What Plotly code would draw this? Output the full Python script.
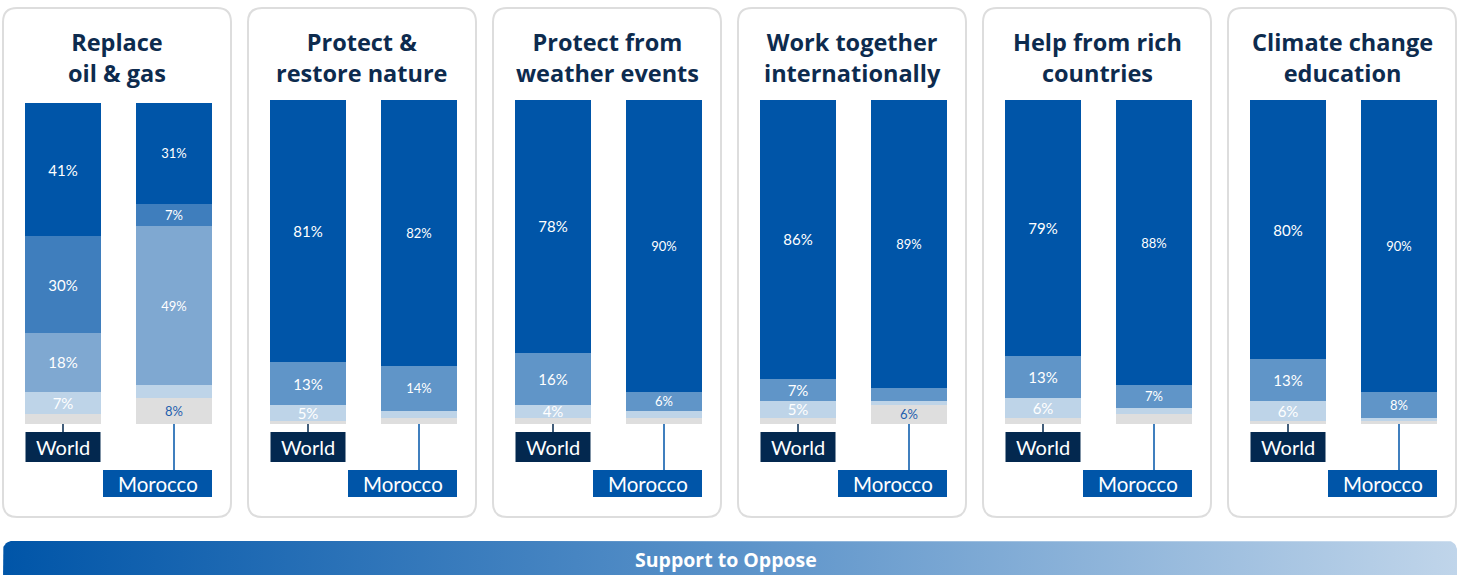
import numpy as np
import plotly.graph_objects as go

# ---------------- data ----------------
titles = ["Replace<br>oil & gas", "Protect &<br>restore nature", "Protect from<br>weather events",
          "Work together<br>internationally", "Help from rich<br>countries", "Climate change<br>education"]
groups = ["World", "Morocco"]

# segment values (top = strongest support), bars ordered World, Morocco for each topic
seg1 = [41, 31, 81, 82, 78, 90, 86, 89, 79, 88, 80, 90]
seg2 = [30, 7, 13, 14, 16, 6, 7, 4, 13, 7, 13, 8]
seg3 = [18, 49, 5, 2, 4, 2, 5, 1, 6, 2, 6, 1]
seg4 = [7, 4, 1, 2, 2, 2, 2, 6, 2, 3, 1, 1]
seg5 = [3, 8, 0, 0, 0, 0, 0, 0, 0, 0, 0, 0]

# which segment values are printed
show1 = [1, 1, 1, 1, 1, 1, 1, 1, 1, 1, 1, 1]
show2 = [1, 1, 1, 1, 1, 1, 1, 0, 1, 1, 1, 1]
show3 = [1, 1, 1, 0, 1, 0, 1, 0, 1, 0, 1, 0]
show4 = [1, 0, 0, 0, 0, 0, 0, 1, 0, 0, 0, 0]
show5 = [0, 1, 0, 0, 0, 0, 0, 0, 0, 0, 0, 0]

footer = "Support to Oppose"

# ---------------- styles ----------------
W, H = 1465, 575
FONT = "Lato"
TFONT = "Open Sans"
NAVY = "#0D2B4E"
BLUE = "#0055A8"
PAL5 = ["#0055A8", "#3F7EBD", "#7FA8D1", "#BED4E8", "#DEDEDE"]
PAL4 = ["#0055A8", "#6095C8", "#BED4E8", "#DEDEDE", "#DEDEDE"]
GRAY_TXT = "#1F5FAE"

STEP = 245
PANEL_L, PANEL_W = 3, 228
BAR_W = 76
WORLD_C, MOR_C = 63, 174
BAR_TOP, BAR_BOT = 100, 424

xs = []
for i in range(len(titles)):
    xs += [WORLD_C + STEP * i, MOR_C + STEP * i]

fig = go.Figure()

segs = [seg1, seg2, seg3, seg4, seg5]
shows = [show1, show2, show3, show4, show5]
# stack from the bottom (oppose) to the top (support)
for k in reversed(range(len(segs))):
    vals, sh = segs[k], shows[k]
    colors, texts, sizes, tcolors = [], [], [], []
    for j, v in enumerate(vals):
        panel = j // 2
        pal = PAL5 if panel == 0 else PAL4
        colors.append(pal[k])
        texts.append(f"{v}%" if sh[j] and v > 0 else "")
        sizes.append(15 if j % 2 == 0 else 13)
        is_gray = pal[k] == "#DEDEDE"
        tcolors.append(GRAY_TXT if is_gray else "white")
    fig.add_trace(go.Bar(
        x=xs, y=vals, width=BAR_W, marker=dict(color=colors, line=dict(width=0)),
        text=texts, textposition="inside", insidetextanchor="middle", textangle=0,
        constraintext="none", textfont=dict(family=FONT, size=sizes, color=tcolors),
        hoverinfo="skip", xaxis="x", yaxis="y",
    ))

shapes = []
annotations = []


def rounded_path(x0, y0, x1, y1, r):
    return (f"M{x0 + r},{y0} L{x1 - r},{y0} Q{x1},{y0} {x1},{y0 + r} "
            f"L{x1},{y1 - r} Q{x1},{y1} {x1 - r},{y1} L{x0 + r},{y1} "
            f"Q{x0},{y1} {x0},{y1 - r} L{x0},{y0 + r} Q{x0},{y0} {x0 + r},{y0} Z")


for i, t in enumerate(titles):
    x0 = PANEL_L + STEP * i
    shapes.append(dict(type="path", xref="x", yref="y2", layer="below",
                       path=rounded_path(x0, 8, x0 + PANEL_W, 517, 14),
                       line=dict(color="#DDDDDD", width=2), fillcolor="rgba(0,0,0,0)"))
    annotations.append(dict(x=x0 + PANEL_W / 2, y=57.5, xref="x", yref="y2",
                            text=f"<b>{t}</b>", showarrow=False,
                            font=dict(family=TFONT, size=23.5, color=NAVY),
                            xanchor="center", yanchor="middle", align="center"))
    # World label
    wc = WORLD_C + STEP * i
    shapes.append(dict(type="line", xref="x", yref="y2", x0=wc, x1=wc, y0=BAR_BOT, y1=432,
                       line=dict(color="#03284F", width=1.5)))
    shapes.append(dict(type="rect", xref="x", yref="y2", x0=wc - 37.5, x1=wc + 37.5, y0=432, y1=462,
                       line=dict(width=0), fillcolor="#03284F"))
    annotations.append(dict(x=wc, y=447, xref="x", yref="y2", text=groups[0], showarrow=False,
                            font=dict(family=FONT, size=20, color="white"),
                            xanchor="center", yanchor="middle"))
    # Morocco label
    mc = MOR_C + STEP * i
    shapes.append(dict(type="line", xref="x", yref="y2", x0=mc, x1=mc, y0=BAR_BOT, y1=470,
                       line=dict(color=BLUE, width=1.5)))
    shapes.append(dict(type="rect", xref="x", yref="y2", x0=mc + 38 - 109, x1=mc + 38, y0=470, y1=497,
                       line=dict(width=0), fillcolor=BLUE))
    annotations.append(dict(x=mc + 38 - 54.5, y=483.5, xref="x", yref="y2", text=groups[1],
                            showarrow=False, font=dict(family=FONT, size=20.5, color="white"),
                            xanchor="center", yanchor="middle"))

# gradient footer band with rounded top corners
r = 9
fx0, fx1, fy0, fy1 = 3, 1457, 541, 580
ang = np.linspace(np.pi, 1.5 * np.pi, 12)
left = [(fx0 + r + r * np.cos(a), fy0 + r + r * np.sin(a)) for a in ang]
ang2 = np.linspace(1.5 * np.pi, 2 * np.pi, 12)
right = [(fx1 - r + r * np.cos(a), fy0 + r + r * np.sin(a)) for a in ang2]
pts = [(fx0, fy1)] + left + right + [(fx1, fy1), (fx0, fy1)]
fig.add_trace(go.Scatter(
    x=[p[0] for p in pts], y=[p[1] for p in pts], mode="lines", line=dict(width=0),
    fill="toself", fillgradient=dict(type="horizontal",
                                     colorscale=[[0, "#0055A8"], [0.5, "#5A92C9"], [1, "#C0D5EA"]]),
    hoverinfo="skip", xaxis="x", yaxis="y2", showlegend=False,
))
annotations.append(dict(x=726, y=559, xref="x", yref="y2", text=f"<b>{footer}</b>", showarrow=False,
                        font=dict(family=TFONT, size=19.5, color="white"), xanchor="center",
                        yanchor="middle"))

fig.update_layout(
    width=W, height=H, margin=dict(l=0, r=0, t=0, b=0),
    paper_bgcolor="white", plot_bgcolor="rgba(0,0,0,0)",
    barmode="stack", showlegend=False,
    xaxis=dict(range=[0, W], domain=[0, 1], visible=False, fixedrange=True),
    yaxis=dict(range=[0, 100], domain=[(H - BAR_BOT) / H, (H - BAR_TOP) / H], visible=False,
               fixedrange=True),
    yaxis2=dict(range=[H, 0], domain=[0, 1], visible=False, anchor="x", fixedrange=True),
    shapes=shapes, annotations=annotations,
)

fig.write_html("out.html")
